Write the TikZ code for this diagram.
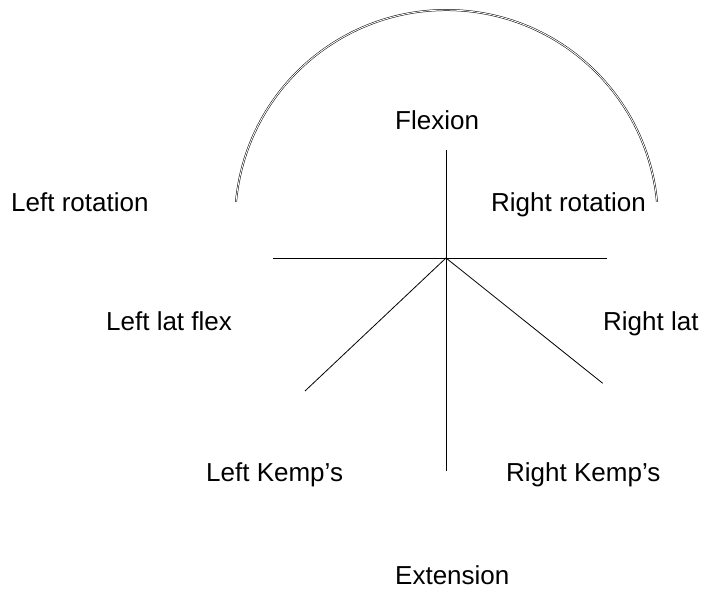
\documentclass[tikz,border=0pt]{standalone}
\usepackage{fontspec}
\setmainfont{Liberation Sans}
\begin{document}
\begin{tikzpicture}[x=1pt,y=1pt,
  lbl/.style={anchor=base west,inner sep=0pt,font=\fontsize{26}{30}\selectfont},
  axis/.style={line width=0.8pt,black},
  arcline/.style={double=white,draw=black,line width=0.5pt,double distance=0.9pt}]
\useasboundingbox (0,0) rectangle (713,605);
% center and ends
\coordinate (c) at (446,347);
\coordinate (top) at (446,455);
\coordinate (bot) at (446,134);
\coordinate (lft) at (273,347);
\coordinate (rgt) at (607,347);
\coordinate (dl) at (305,214);
\coordinate (dr) at (602.7,221.7);
\draw[axis] (top) -- (bot);
\draw[axis] (lft) -- (rgt);
\draw[axis] (c) -- (dl);
\draw[axis] (c) -- (dr);
% arc
\coordinate (as) at (236,403.1);
\draw[arcline] (as) arc[start angle=174.7, end angle=5.3, radius=211.4];
% labels
\node[lbl] (flex) at (395,475) {Flexion};
\node[lbl] (lrot) at (11,393.5) {Left rotation};
\node[lbl] (rrot) at (491,393.3) {Right rotation};
\node[lbl] (llat) at (106,274.5) {Left lat flex};
\node[lbl] (rlat) at (603,274) {Right lat};
\node[lbl] (lkemp) at (206,123.4) {Left Kemp’s};
\node[lbl] (rkemp) at (506,123.5) {Right Kemp’s};
\node[lbl] (ext) at (395,20) {Extension};
\end{tikzpicture}
\end{document}
